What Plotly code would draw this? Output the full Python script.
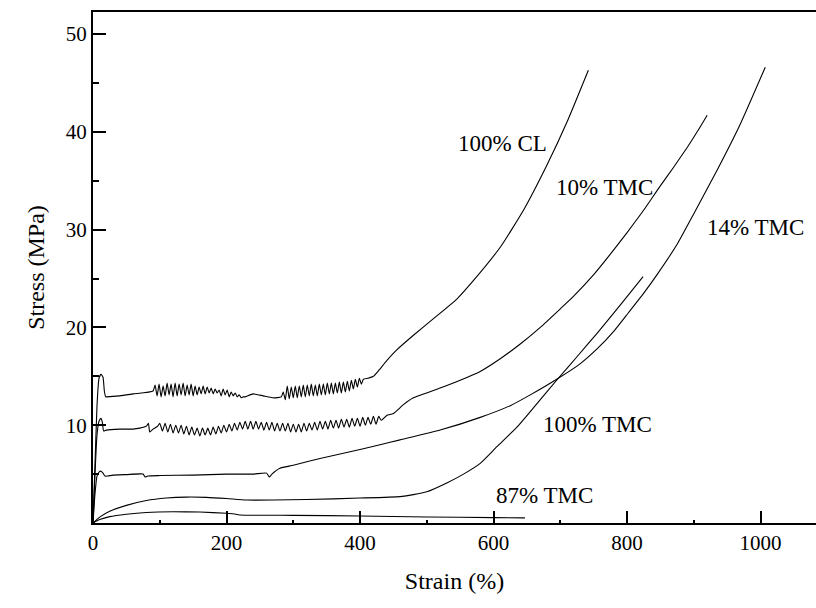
import plotly.graph_objects as go

# ---------------- data ----------------
cl_x = [0, 3, 6, 9, 12, 15, 17, 19, 20, 40, 60, 90,
        93, 96, 99, 102, 105, 108, 111, 114, 117, 120, 123, 126, 129, 132, 135, 138, 141, 144, 147,
        150, 153, 156, 159, 162, 165, 168, 171, 174, 177, 180, 183, 186, 189, 192, 195, 198, 201, 204,
        207, 210, 213, 216, 219, 222, 225,
        228, 240, 255, 270, 282,
        285, 288, 291, 294, 297, 300, 303, 306, 309, 312, 315, 318, 321, 324, 327, 330, 333, 336, 339,
        342, 345, 348, 351, 354, 357, 360, 363, 366, 369, 372, 375, 378, 381, 384, 387, 390, 393, 396,
        399, 402, 405,
        412, 420, 428, 440, 455, 480, 510, 545, 570, 610, 645, 680, 710, 742]
cl_y = [0, 6.0, 12.0, 14.8, 15.2, 14.9, 13.5, 12.9, 12.9, 13.0, 13.2, 13.5,
        14.1, 13.0, 14.2, 12.9, 14.0, 13.0, 14.3, 13.1, 14.2, 12.9, 14.3, 13.0, 14.2, 13.1, 14.3, 13.0, 14.1, 13.1, 14.2,
        13.0, 14.0, 13.1, 13.9, 13.2, 14.0, 13.2, 13.9, 13.3, 13.8, 13.2, 13.7, 13.3, 13.6, 13.0, 13.7, 13.1, 13.6, 12.9,
        13.4, 13.0, 13.3, 12.9, 13.1, 12.8, 12.9,
        12.9, 13.2, 13.0, 12.8, 12.9,
        13.4, 12.6, 14.0, 12.7, 13.9, 12.8, 14.0, 12.8, 14.0, 12.9, 14.1, 12.9, 14.1, 13.0, 14.2, 13.0, 14.1, 13.0, 14.2,
        13.1, 14.2, 13.1, 14.3, 13.2, 14.3, 13.2, 14.3, 13.3, 14.4, 13.3, 14.4, 13.4, 14.5, 13.5, 14.6, 13.7, 14.7, 13.9,
        14.8, 14.2, 14.7,
        14.8, 15.0, 15.6, 16.6, 17.7, 19.2, 20.9, 22.9, 24.8, 28.2, 32.0, 36.6, 41.0, 46.3]

t10_x = [0, 3, 6, 9, 12, 14, 16, 20, 40, 60, 70, 80, 83, 85, 90, 97,
         100, 104, 108, 112, 116, 120, 124, 128, 132, 136, 140, 144, 148, 152, 156, 160, 164, 168, 172, 176,
         180, 184, 188, 192, 196, 200, 204, 208, 212, 216, 220, 224, 228, 232, 236, 240, 244, 248, 252, 256,
         260, 264, 268, 272, 276, 280, 284, 288, 292, 296, 300, 304, 308, 312, 316, 320, 324, 328, 332, 336,
         340, 344, 348, 352, 356, 360, 364, 368, 372, 376, 380, 384, 388, 392, 396, 400, 404, 408, 412, 416,
         420, 424, 428, 432,
         440, 450, 465, 480, 520, 550, 580, 610, 640, 670, 700, 720, 750, 775, 800, 825, 849, 870, 890, 905, 920]
t10_y = [0, 5.0, 9.0, 10.4, 10.7, 10.3, 9.4, 9.5, 9.6, 9.6, 9.7, 9.9, 10.2, 9.3, 9.6, 9.9,
         10.2, 9.4, 10.2, 9.3, 10.1, 9.2, 10.0, 9.2, 10.0, 9.1, 9.9, 9.0, 9.8, 9.0, 9.7, 8.9, 9.7, 9.0, 9.7, 9.0,
         9.8, 9.1, 9.9, 9.2, 10.0, 9.3, 10.1, 9.4, 10.2, 9.5, 10.3, 9.6, 10.4, 9.6, 10.4, 9.6, 10.4, 9.6, 10.3, 9.5,
         10.3, 9.5, 10.3, 9.4, 10.2, 9.4, 10.2, 9.4, 10.2, 9.3, 10.1, 9.3, 10.1, 9.3, 10.2, 9.4, 10.2, 9.5, 10.3, 9.5,
         10.4, 9.6, 10.4, 9.6, 10.5, 9.7, 10.5, 9.7, 10.6, 9.8, 10.6, 9.8, 10.7, 9.9, 10.7, 9.9, 10.8, 10.0, 10.8, 10.1,
         10.9, 10.1, 10.9, 10.5,
         11.0, 11.2, 12.1, 12.8, 13.8, 14.6, 15.5, 16.8, 18.3, 20.0, 21.9, 23.2, 25.4, 27.5, 29.7, 32.0, 34.4, 36.4, 38.4, 40.0, 41.7]

t14_x = [0, 3, 6, 9, 12, 15, 18, 22, 30, 50, 75, 78, 82, 100, 150, 200, 240, 260, 264, 268,
         280, 300, 340, 380, 430, 460, 520, 580, 625, 655, 697, 730, 755, 780, 802, 825, 847, 875, 899, 935, 969, 1007]
t14_y = [0, 3.0, 4.8, 5.2, 5.3, 5.1, 4.8, 4.8, 4.9, 4.95, 5.0, 4.7, 4.8, 4.85, 4.9, 5.0, 5.0, 5.1, 4.7, 5.0,
         5.6, 5.9, 6.6, 7.2, 8.0, 8.5, 9.5, 10.8, 12.0, 13.1, 14.8, 16.3, 17.8, 19.6, 21.5, 23.5, 25.6, 28.5, 31.5, 36.1, 40.7, 46.6]

t100_x = [0, 10, 25, 50, 80, 110, 140, 170, 200, 230, 270, 320, 400, 460, 480, 500, 530, 555, 580, 605,
          635, 660, 697, 725, 755, 790, 824]
t100_y = [0, 0.6, 1.2, 1.8, 2.3, 2.55, 2.65, 2.62, 2.5, 2.35, 2.35, 2.4, 2.55, 2.7, 2.9, 3.2, 4.1, 5.0, 6.1, 7.8,
          9.8, 11.8, 14.8, 17.0, 19.4, 22.3, 25.2]

t87_x = [0, 10, 25, 50, 80, 120, 160, 200, 210, 220, 260, 300, 400, 500, 600, 647]
t87_y = [0, 0.35, 0.65, 0.9, 1.08, 1.15, 1.12, 1.0, 0.95, 0.82, 0.8, 0.78, 0.72, 0.62, 0.55, 0.52]

series = [("100% CL", cl_x, cl_y), ("10% TMC", t10_x, t10_y), ("14% TMC", t14_x, t14_y),
          ("100% TMC", t100_x, t100_y), ("87% TMC", t87_x, t87_y)]

label_text = ["100% CL", "10% TMC", "14% TMC", "100% TMC", "87% TMC"]
label_x = [614, 766, 993, 755, 677]
label_y = [38.8, 34.3, 30.2, 10.1, 2.8]

x_ticks = [0, 200, 400, 600, 800, 1000]
y_ticks = [10, 20, 30, 40, 50]

FONT = "Liberation Serif"

fig = go.Figure()
for name, xs, ys in series:
    fig.add_trace(go.Scatter(x=xs, y=ys, mode="lines", name=name,
                             line=dict(color="black", width=1.1, shape="spline", smoothing=0.5)))

for t, x, y in zip(label_text, label_x, label_y):
    fig.add_annotation(x=x, y=y, text=t, showarrow=False,
                       font=dict(family=FONT, size=23, color="black"))

fig.update_layout(
    width=816, height=608,
    margin=dict(l=93, r=0, t=12, b=85),
    paper_bgcolor="white", plot_bgcolor="white",
    showlegend=False,
    font=dict(family=FONT, size=21, color="black"),
)
fig.update_xaxes(
    range=[0, 1083], tickvals=x_ticks, ticks="inside", ticklen=12, tickwidth=2,
    tickcolor="black", showline=True, linewidth=2, linecolor="black", mirror=True,
    showgrid=False, zeroline=False, tickfont=dict(family=FONT, size=21),
    minor=dict(dtick=100, ticks="inside", ticklen=3, tickwidth=1.5, tickcolor="black"),
    title=dict(text="Strain (%)", font=dict(family=FONT, size=24), standoff=18),
)
fig.update_yaxes(
    range=[0, 52.25], tickvals=y_ticks, ticks="inside", ticklen=13, tickwidth=2,
    tickcolor="black", showline=True, linewidth=2, linecolor="black", mirror=False,
    showgrid=False, zeroline=False, tickfont=dict(family=FONT, size=21),
    minor=dict(dtick=5, ticks="inside", ticklen=6, tickwidth=1.5, tickcolor="black"),
    title=dict(text="Stress (MPa)", font=dict(family=FONT, size=24), standoff=14),
)

fig.write_html("out.html")
